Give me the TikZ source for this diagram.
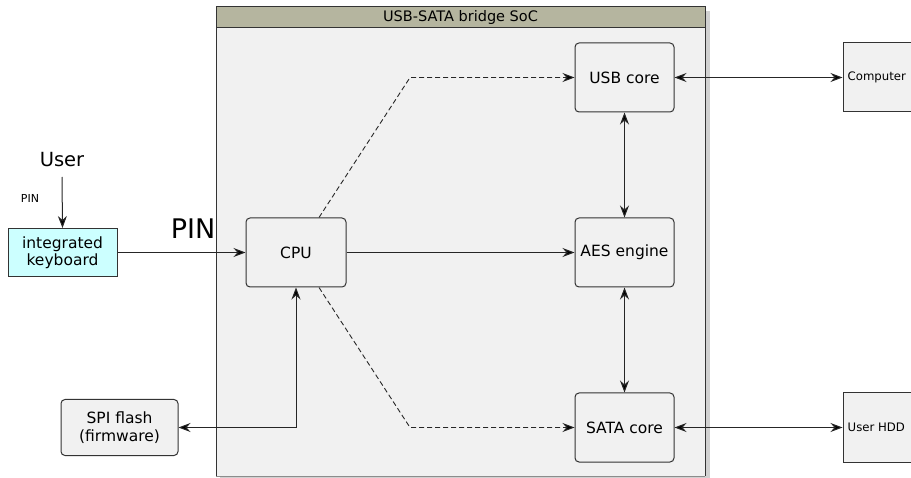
\documentclass[tikz,border=0pt]{standalone}
\usepackage{fontspec}
\setmainfont{DejaVu Sans}
\usetikzlibrary{arrows.meta,calc}

\definecolor{socbody}{HTML}{F1F1F1}
\definecolor{sochead}{HTML}{B5B59F}
\definecolor{edge}{HTML}{333333}
\definecolor{keyfill}{HTML}{CCFFFF}

\tikzset{
  tip/.tip={Stealth[length=12pt,width=9pt,inset=4pt,fill=black]},
  block/.style={draw=edge, line width=1pt, fill=socbody, rounded corners=4pt,
    minimum width=99pt, minimum height=69pt, inner sep=0pt,
    font=\fontsize{15.5}{18}\selectfont},
  extbox/.style={draw=edge, line width=1pt, fill=socbody},
  link/.style={draw=black!85, line width=1pt, arrows={-tip}},
  twoway/.style={link, arrows={tip-tip}},
  ctrl/.style={link, line width=0.9pt, dash pattern=on 5pt off 3pt},
}

\begin{document}
\begin{tikzpicture}[x=1pt,y=-1pt]
\useasboundingbox (0,0) rectangle (911,478);
\clip (0,0) rectangle (911,478);

% SoC container with its drop shadow and title band
\fill[black!18] (220,11) rectangle (710,480);
\fill[socbody] (216,7) rectangle (705,476);
\fill[sochead] (216,7) rectangle (705,28);
\draw[edge, line width=1pt] (216,28) -- (705,28);
\draw[edge, line width=1pt] (216,476) -- (216,7) -- (705,7) -- (705,476);
\draw[black!45, line width=1pt] (216,476) -- (705,476);
\node (soctitle) at (460.5,17.5) {\fontsize{14.5}{16}\selectfont USB-SATA bridge SoC};

% blocks inside the SoC
\node[block] (usb)  at (624.5,77.5)  {USB core};
\node[block] (aes)  at (624.5,252.5) {AES engine};
\node[block] (sata) at (624.5,427.5) {SATA core};
\node[block, minimum width=100pt] (cpu) at (296,252.5) {CPU};

% outside parts
\node[draw=edge, line width=1pt, fill=keyfill, minimum width=109pt, minimum height=48pt,
  inner sep=0pt, align=center, font=\fontsize{15.5}{17}\selectfont] (kbd) at (62.5,252.5) {integrated\\keyboard};
\node[block, minimum width=117pt, minimum height=56pt, align=center,
  font=\fontsize{15.5}{18}\selectfont] (spi) at (119.5,427.5) {SPI flash\\(firmware)};
\node[extbox, minimum width=90pt, minimum height=69pt, inner sep=0pt] (pc) at (888,77.5) {};
\node[extbox, minimum width=90pt, minimum height=69pt, inner sep=0pt] (hdd) at (888,427.5) {};
\node[anchor=west, inner sep=0pt, font=\fontsize{11.7}{14}\selectfont] (pclabel) at ([xshift=5pt]pc.west) {Computer};
\node[anchor=west, inner sep=0pt, font=\fontsize{11.7}{14}\selectfont] (hddlabel) at ([xshift=5pt]hdd.west) {User HDD};

\node[font=\fontsize{19.5}{22}\selectfont, inner sep=0pt] (user) at (62,160) {User};
\node[font=\fontsize{11}{13}\selectfont, inner sep=0pt] (pinsmall) at (30,198) {PIN};
\node[font=\fontsize{27}{30}\selectfont, inner sep=0pt] (pinbig) at (193,229) {PIN};

% data paths
\coordinate (userOut) at (62,177);
\draw[link] (userOut) -- (kbd.north);
\draw[link] (kbd.east) -- (cpu.west);
\draw[link] (cpu.east) -- (aes.west);
\draw[twoway] (usb.south) -- (aes.north);
\draw[twoway] (aes.south) -- (sata.north);
\draw[twoway] (usb.east) -- (pc.west);
\draw[twoway] (sata.east) -- (hdd.west);
\draw[twoway] (spi.east) -| (cpu.south);

% control paths from the CPU
\coordinate (cpuTop) at ([xshift=23pt]cpu.north);
\coordinate (cpuBot) at ([xshift=23pt]cpu.south);
\coordinate (bendUp) at (410,77.5);
\coordinate (bendDown) at (410,427.5);
\draw[ctrl] (cpuTop) -- (bendUp) -- (usb.west);
\draw[ctrl] (cpuBot) -- (bendDown) -- (sata.west);
\end{tikzpicture}
\end{document}
